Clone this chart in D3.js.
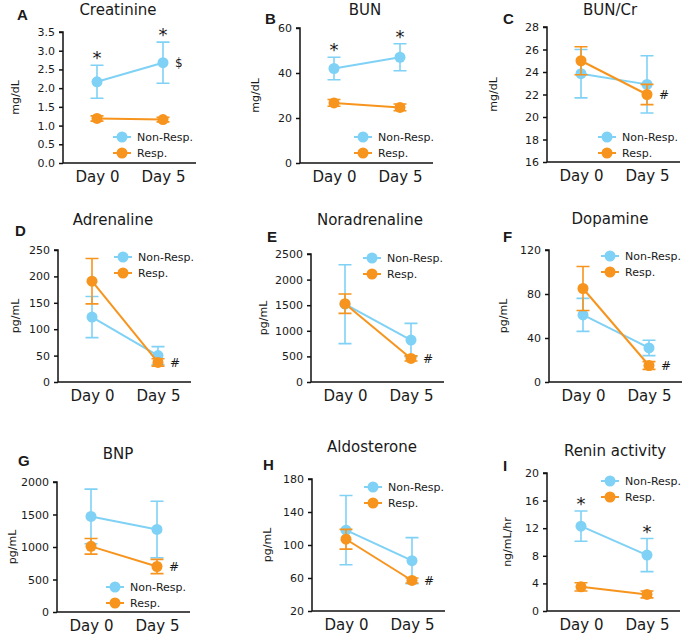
<!DOCTYPE html>
<html>
<head>
<meta charset="utf-8">
<script src="https://cdn.jsdelivr.net/npm/d3@7"></script>
<style>
  body { margin: 0; background: #fff; }
  svg text { font-family: "DejaVu Sans", sans-serif; fill: #1a1a1a; }
</style>
</head>
<body>
<svg id="chart" width="685" height="639"></svg>
<script>
// ---- data ----
const days = ["Day 0", "Day 5"];
const groups = ["Non-Resp.", "Resp."];
const letters = ["A", "B", "C", "D", "E", "F", "G", "H", "I"];
const titles = ["Creatinine", "BUN", "BUN/Cr", "Adrenaline", "Noradrenaline",
                "Dopamine", "BNP", "Aldosterone", "Renin activity"];
const units = ["mg/dL", "mg/dL", "mg/dL", "pg/mL", "pg/mL", "pg/mL",
               "pg/mL", "pg/mL", "ng/mL/hr"];
const yDomains = [[0, 3.5], [0, 60], [16, 28], [0, 250], [0, 2500], [0, 120],
                  [0, 2000], [20, 180], [0, 20]];
const yTicks = [
  [0, 0.5, 1, 1.5, 2, 2.5, 3, 3.5],
  [0, 20, 40, 60],
  [16, 18, 20, 22, 24, 26, 28],
  [0, 50, 100, 150, 200, 250],
  [0, 500, 1000, 1500, 2000, 2500],
  [0, 40, 80, 120],
  [0, 500, 1000, 1500, 2000],
  [20, 60, 100, 140, 180],
  [0, 4, 8, 12, 16, 20]
];
const tickFormats = [".1f", "d", "d", "d", "d", "d", "d", "d", "d"];

const nonRespMean = [[2.17, 2.68], [42, 47], [23.85, 22.9], [123, 50], [1520, 820],
                     [61, 31], [1470, 1270], [118, 81], [12.3, 8.1]];
const nonRespErr  = [[0.44, 0.55], [5, 6], [2.15, 2.55], [39, 17], [770, 325],
                     [15, 7], [420, 435], [42, 28], [2.2, 2.4]];
const respMean    = [[1.19, 1.16], [26.7, 24.7], [25.0, 22.0], [191, 37], [1530, 460],
                     [85, 15], [1010, 700], [107, 57], [3.5, 2.4]];
const respErr     = [[0.07, 0.06], [1.5, 1.5], [1.25, 0.9], [43, 7], [190, 50],
                     [20, 3.5], [120, 110], [12, 3], [0.6, 0.5]];
// significance marks: star above Non-Resp. points, symbol beside Day 5
const starMarks = [[1, 1], [1, 1], [0, 0], [0, 0], [0, 0], [0, 0], [0, 0], [0, 0], [1, 1]];
const day5Marks = ["$", "", "#", "#", "#", "#", "#", "#", ""];

// ---- layout (pixel positions of each panel) ----
const layout = [
  { l: 63,  t: 32,  b: 163, tx: 118, ty: 15,  lx: 17,  ly: 20,  yl: 15,  gx: 122, gy: 137 },
  { l: 300, t: 28,  b: 163, tx: 365, ty: 15,  lx: 265, ly: 24,  yl: 255, gx: 363, gy: 137 },
  { l: 547, t: 27,  b: 162, tx: 610, ty: 15,  lx: 503, ly: 24,  yl: 493, gx: 607, gy: 137 },
  { l: 58,  t: 250, b: 382, tx: 113, ty: 225, lx: 15,  ly: 236, yl: 15,  gx: 123, gy: 257 },
  { l: 311, t: 254, b: 382, tx: 370, ty: 225, lx: 267, ly: 242, yl: 263, gx: 372, gy: 258 },
  { l: 549, t: 250, b: 382, tx: 610, ty: 224, lx: 503, ly: 242, yl: 503, gx: 610, gy: 256 },
  { l: 57,  t: 482, b: 612, tx: 118, ty: 459, lx: 18,  ly: 466, yl: 12,  gx: 115, gy: 587 },
  { l: 312, t: 479, b: 611, tx: 372, ty: 452, lx: 263, ly: 470, yl: 267, gx: 373, gy: 487 },
  { l: 547, t: 473, b: 611, tx: 615, ty: 456, lx: 503, ly: 471, yl: 507, gx: 610, gy: 481 }
];
const colors = ["#7fd1f5", "#f7941d"];

const svg = d3.select("#chart");

letters.forEach((letter, i) => {
  const L = layout[i];
  const g = svg.append("g");
  const x = d3.scalePoint().domain(days).range([L.l + 34, L.l + 100]);
  const y = d3.scaleLinear().domain(yDomains[i]).range([L.b, L.t]);

  // y axis
  const yAxis = d3.axisLeft(y).tickValues(yTicks[i])
      .tickFormat(d3.format(tickFormats[i])).tickSize(4).tickPadding(4);
  const ya = g.append("g").attr("transform", `translate(${L.l},0)`).call(yAxis);
  ya.select(".domain").attr("stroke", "#111").attr("stroke-width", 1.5)
      .attr("d", `M-4,${L.t}H0V${L.b}`);
  ya.selectAll(".tick line").attr("stroke", "#111").attr("stroke-width", 1.5);
  ya.selectAll(".tick text").attr("font-size", 11)
      .attr("font-family", "DejaVu Sans").attr("fill", "#1a1a1a");

  // x axis (no ticks)
  const xAxis = d3.axisBottom(x).tickSize(0).tickPadding(8);
  const xa = g.append("g").attr("transform", `translate(0,${L.b})`).call(xAxis);
  xa.select(".domain").attr("stroke", "#111").attr("stroke-width", 1.5)
      .attr("d", `M${L.l},0H${L.l + 133}`);
  xa.selectAll(".tick text").attr("font-size", 15)
      .attr("font-family", "DejaVu Sans").attr("fill", "#1a1a1a");

  // titles and labels
  g.append("text").attr("x", L.tx).attr("y", L.ty).attr("text-anchor", "middle")
      .attr("font-size", 15).text(titles[i]);
  g.append("text").attr("x", L.lx).attr("y", L.ly)
      .style("font-family", "'Liberation Sans', Arial, sans-serif")
      .attr("font-weight", "bold").attr("font-size", 15).text(letter);
  g.append("text")
      .attr("transform", `translate(${L.yl},${(L.t + L.b) / 2}) rotate(-90)`)
      .attr("text-anchor", "middle").attr("dy", "0.35em")
      .attr("font-size", 11).text(units[i]);

  // series
  const series = [
    { mean: nonRespMean[i], err: nonRespErr[i], color: colors[0] },
    { mean: respMean[i], err: respErr[i], color: colors[1] }
  ];
  series.forEach(s => {
    const pts = days.map((d, k) => ({ day: d, m: s.mean[k], e: s.err[k] }));
    const sg = g.append("g");
    sg.selectAll(".eb").data(pts).enter().append("path")
        .attr("d", p => {
          const cx = x(p.day), y1 = y(p.m + p.e), y2 = y(p.m - p.e);
          return `M${cx},${y1}V${y2}M${cx - 6.5},${y1}h13M${cx - 6.5},${y2}h13`;
        })
        .attr("fill", "none").attr("stroke", s.color).attr("stroke-width", 1.6);
    sg.append("path").datum(pts)
        .attr("d", d3.line().x(p => x(p.day)).y(p => y(p.m)))
        .attr("fill", "none").attr("stroke", s.color).attr("stroke-width", 2);
    sg.selectAll("circle").data(pts).enter().append("circle")
        .attr("cx", p => x(p.day)).attr("cy", p => y(p.m)).attr("r", 5.5)
        .attr("fill", s.color);
  });

  // significance marks
  days.forEach((d, k) => {
    if (starMarks[i][k]) {
      g.append("text").attr("x", x(d)).attr("y", y(nonRespMean[i][k] + nonRespErr[i][k]) - 1)
          .attr("text-anchor", "middle").attr("font-size", 18).text("*");
    }
  });
  if (day5Marks[i]) {
    const yv = day5Marks[i] === "$" ? y(nonRespMean[i][1]) : y(respMean[i][1]);
    g.append("text").attr("x", x(days[1]) + 12).attr("y", yv).attr("dy", "0.35em")
        .attr("font-size", 12).text(day5Marks[i]);
  }

  // legend
  groups.forEach((name, k) => {
    const gy = L.gy + k * 16;
    g.append("line").attr("x1", L.gx - 9).attr("x2", L.gx + 9)
        .attr("y1", gy).attr("y2", gy).attr("stroke", colors[k]).attr("stroke-width", 2);
    g.append("circle").attr("cx", L.gx).attr("cy", gy).attr("r", 5.5).attr("fill", colors[k]);
    g.append("text").attr("x", L.gx + 15).attr("y", gy).attr("dy", "0.35em")
        .attr("font-size", 11).text(name);
  });
});
</script>
</body>
</html>
